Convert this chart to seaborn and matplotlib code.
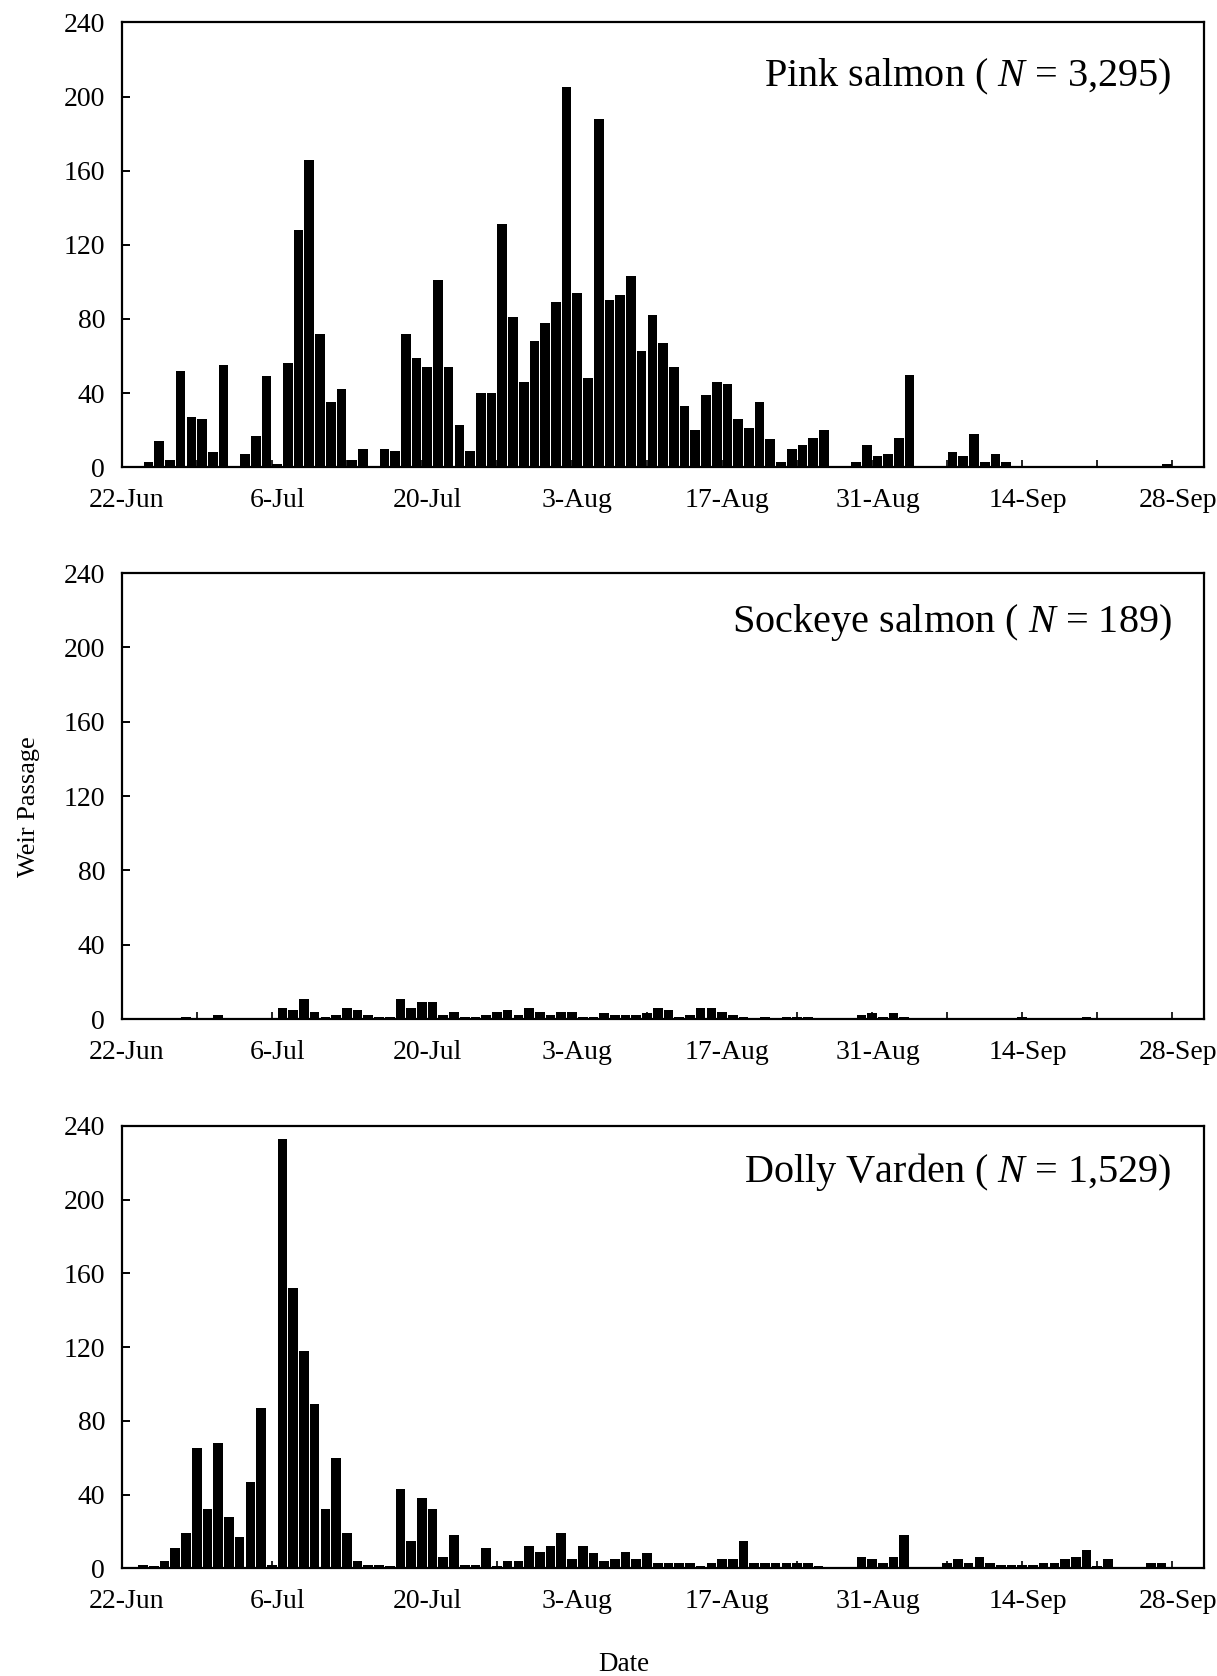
import numpy as np
import pandas as pd
import matplotlib
matplotlib.use("Agg")
import matplotlib.pyplot as plt
from matplotlib.ticker import FixedLocator, NullFormatter
import seaborn as sns

# Daily weir passage counts, 22 June through 30 September
pink_salmon = [0, 0, 3, 14, 4, 52, 27, 26, 8, 55,
               0, 7, 17, 49, 2, 56, 128, 166, 72, 35,
               42, 4, 10, 0, 10, 9, 72, 59, 54, 101,
               54, 23, 9, 40, 40, 131, 81, 46, 68, 78,
               89, 205, 94, 48, 188, 90, 93, 103, 63, 82,
               67, 54, 33, 20, 39, 46, 45, 26, 21, 35,
               15, 3, 10, 12, 16, 20, 0, 0, 3, 12,
               6, 7, 16, 50, 0, 0, 0, 8, 6, 18,
               3, 7, 3, 0, 0, 0, 0, 0, 0, 0,
               0, 0, 0, 0, 0, 0, 0, 2, 0, 0, 0]

sockeye_salmon = [0, 0, 0, 0, 0, 1, 0, 0, 2, 0,
                  0, 0, 0, 0, 6, 5, 11, 4, 1, 2,
                  6, 5, 2, 1, 1, 11, 6, 9, 9, 2,
                  4, 1, 1, 2, 4, 5, 2, 6, 4, 2,
                  4, 4, 1, 1, 3, 2, 2, 2, 3, 6,
                  5, 1, 2, 6, 6, 4, 2, 1, 0, 1,
                  0, 1, 1, 1, 0, 0, 0, 0, 2, 3,
                  1, 3, 1, 0, 0, 0, 0, 0, 0, 0,
                  0, 0, 0, 1, 0, 0, 0, 0, 0, 1,
                  0, 0, 0, 0, 0, 0, 0, 0, 0, 0, 0]

dolly_varden = [0, 2, 1, 4, 11, 19, 65, 32, 68, 28,
                17, 47, 87, 2, 233, 152, 118, 89, 32, 60,
                19, 4, 2, 2, 1, 43, 15, 38, 32, 6,
                18, 2, 2, 11, 1, 4, 4, 12, 9, 12,
                19, 5, 12, 8, 4, 5, 9, 5, 8, 3,
                3, 3, 3, 1, 3, 5, 5, 15, 3, 3,
                3, 3, 3, 3, 1, 0, 0, 0, 6, 5,
                3, 6, 18, 0, 0, 0, 3, 5, 3, 6,
                3, 2, 2, 2, 2, 3, 3, 5, 6, 10,
                1, 5, 0, 0, 0, 3, 3, 0, 0, 0, 0]

panel_titles = ["Pink salmon ( $N$ = 3,295)",
                "Sockeye salmon ( $N$ = 189)",
                "Dolly Varden ( $N$ = 1,529)"]
date_labels = ["22-Jun", "6-Jul", "20-Jul", "3-Aug", "17-Aug", "31-Aug", "14-Sep", "28-Sep"]
y_ticks = [0, 40, 80, 120, 160, 200, 240]

days = pd.date_range("2001-06-22", "2001-09-30", freq="D")
day_names = [f"{d.day}-{d.strftime('%b')}" for d in days]
day_idx = np.arange(len(days))

sns.set_theme(style="white")
plt.rcParams["font.family"] = ["Liberation Serif", "DejaVu Serif"]
plt.rcParams["mathtext.fontset"] = "custom"
plt.rcParams["mathtext.rm"] = "Liberation Serif"
plt.rcParams["mathtext.it"] = "Liberation Serif:italic"

fig = plt.figure(figsize=(12.17, 16.76), dpi=100)

# axes rectangles [left, bottom, width, height] in figure fraction
rects = [[0.1000, 0.7212, 0.8897, 0.2654],
         [0.1000, 0.3920, 0.8897, 0.2661],
         [0.1000, 0.0643, 0.8897, 0.2639]]
# the two lower panels put their bars on the weekly marks
bar_shift = [0.0, 0.5, 0.5]
title_y = [0.877, 0.89, 0.895]
series = [pink_salmon, sockeye_salmon, dolly_varden]

label_pos = [day_names.index(lbl) for lbl in date_labels]
week_marks = np.arange(0, len(days), 7) - 0.5

for vals, title, rect, shift, ty in zip(series, panel_titles, rects, bar_shift, title_y):
    ax = fig.add_axes(rect)
    ax.set_axisbelow(True)
    df = pd.DataFrame({"x": day_idx + shift, "count": vals})
    sns.barplot(data=df, x="x", y="count", native_scale=True, color="black",
                saturation=1, width=0.9, linewidth=0, ax=ax)
    ax.set_xlim(-0.5, len(days) - 0.5)
    ax.set_ylim(0, 240)
    ax.set_yticks(y_ticks)
    ax.set_yticklabels([str(v) for v in y_ticks], fontsize=20)
    ax.set_xticks(label_pos)
    ax.set_xticklabels(date_labels, fontsize=20)
    ax.xaxis.set_minor_locator(FixedLocator(week_marks))
    ax.xaxis.set_minor_formatter(NullFormatter())
    ax.tick_params(axis="x", which="major", length=0, pad=15, colors="black")
    ax.tick_params(axis="x", which="minor", direction="in", length=5,
                   width=1.2, color="black", bottom=True)
    ax.tick_params(axis="y", which="major", direction="in", length=6,
                   width=1.4, pad=12, colors="black", left=True)
    ax.set_xlabel("")
    ax.set_ylabel("")
    for side in ["left", "right", "top", "bottom"]:
        ax.spines[side].set_visible(True)
        ax.spines[side].set_color("black")
        ax.spines[side].set_linewidth(1.6)
    ax.text(0.970, ty, title, transform=ax.transAxes, ha="right", va="center",
            fontsize=29, color="black")

fig.text(0.024, 0.5185, "Weir Passage", rotation=90, ha="center", va="center",
         fontsize=19, color="black")
fig.text(0.513, 0.007, "Date", ha="center", va="center", fontsize=19.5, color="black")

fig.savefig("out.png", dpi=100, facecolor="white")
